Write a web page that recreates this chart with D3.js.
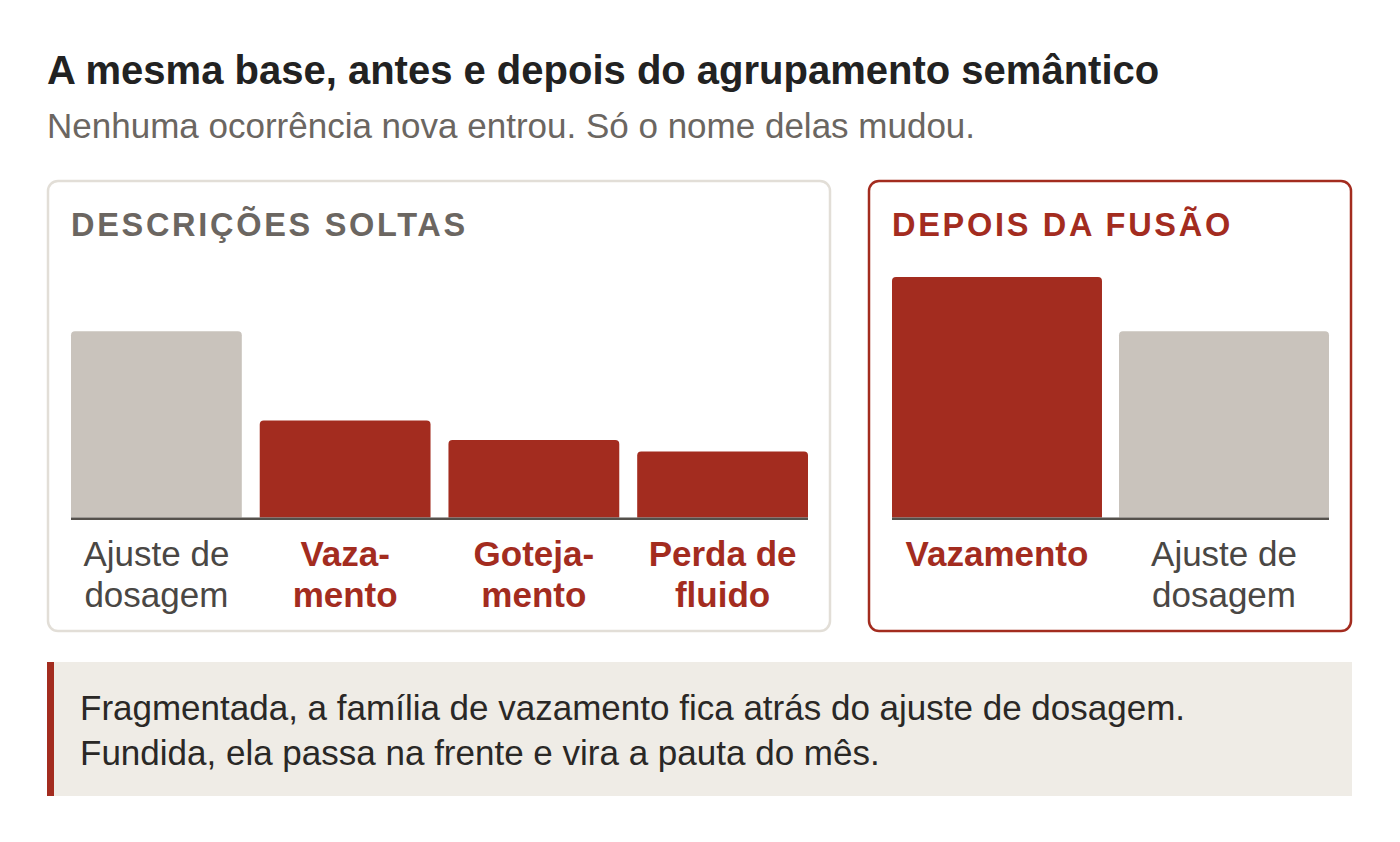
<!DOCTYPE html>
<style>
    body {
        margin: 0;
        background: #fff;
        overflow: hidden;
    }

    svg text {
        font-family: "Liberation Sans", Arial, Helvetica, sans-serif;
    }
</style>
<div id="container"></div>
<script src="https://cdn.jsdelivr.net/npm/d3@7"></script>
<script>
    // Data
    const beforeLabels = [["Ajuste de", "dosagem"], ["Vaza-", "mento"], ["Goteja-", "mento"], ["Perda de", "fluido"]];
    const beforeValues = [48, 25, 20, 17];
    const beforeFamily = ["outro", "vazamento", "vazamento", "vazamento"];

    const afterLabels = [["Vazamento"], ["Ajuste de", "dosagem"]];
    const afterValues = [62, 48];
    const afterFamily = ["vazamento", "outro"];

    const title = "A mesma base, antes e depois do agrupamento semântico";
    const subtitle = "Nenhuma ocorrência nova entrou. Só o nome delas mudou.";
    const captionLines = [
        "Fragmentada, a família de vazamento fica atrás do ajuste de dosagem.",
        "Fundida, ela passa na frente e vira a pauta do mês."
    ];

    const red = "#a32c1f";
    const barColor = {vazamento: red, outro: "#c9c3bc"};
    const labelColor = {vazamento: red, outro: "#4a4744"};

    const width = 1400, height = 842;
    const baseY = 517.5, topY = 277;

    const svg = d3.select("#container").append("svg")
        .attr("width", width)
        .attr("height", height);

    svg.append("text")
        .attr("x", 47).attr("y", 84)
        .attr("font-size", 40).attr("font-weight", "bold")
        .attr("fill", "#222")
        .text(title);

    svg.append("text")
        .attr("x", 47).attr("y", 138)
        .attr("font-size", 35).attr("fill", "#6b6661")
        .text(subtitle);

    // shared value scale so both panels compare
    const y = d3.scaleLinear()
        .domain([0, d3.max(afterValues.concat(beforeValues))])
        .range([baseY, topY]);

    function topRoundedBar(x0, y0, w, h, r) {
        return `M${x0},${y0 + h}V${y0 + r}Q${x0},${y0} ${x0 + r},${y0}H${x0 + w - r}Q${x0 + w},${y0} ${x0 + w},${y0 + r}V${y0 + h}Z`;
    }

    function panel(opts) {
        const g = svg.append("g");
        g.append("rect")
            .attr("x", opts.box[0]).attr("y", 181)
            .attr("width", opts.box[1] - opts.box[0]).attr("height", 450)
            .attr("rx", 10)
            .attr("fill", "#fff")
            .attr("stroke", opts.stroke)
            .attr("stroke-width", 2.5);

        g.append("text")
            .attr("x", opts.range[0]).attr("y", 236)
            .attr("font-size", 32.5).attr("font-weight", "bold")
            .attr("letter-spacing", 2.7)
            .attr("fill", opts.headColor)
            .text(opts.head);

        const x = d3.scaleBand()
            .domain(d3.range(opts.values.length))
            .range(opts.range)
            .paddingInner(opts.pad);

        g.selectAll("path.bar")
            .data(opts.values)
            .join("path")
            .attr("class", "bar")
            .attr("fill", (d, i) => barColor[opts.family[i]])
            .attr("d", (d, i) => topRoundedBar(x(i), y(d), x.bandwidth(), baseY - y(d), 4));

        g.append("line")
            .attr("x1", opts.range[0]).attr("x2", opts.range[1])
            .attr("y1", baseY + 1.2).attr("y2", baseY + 1.2)
            .attr("stroke", "#55514c")
            .attr("stroke-width", 2.5);

        const lab = g.selectAll("text.lab")
            .data(opts.labels)
            .join("text")
            .attr("class", "lab")
            .attr("text-anchor", "middle")
            .attr("font-size", 35)
            .attr("font-weight", (d, i) => opts.family[i] === "vazamento" ? "bold" : "normal")
            .attr("fill", (d, i) => labelColor[opts.family[i]]);

        lab.selectAll("tspan")
            .data((d, i) => d.map(t => ({t, i})))
            .join("tspan")
            .attr("x", d => x(d.i) + x.bandwidth() / 2)
            .attr("y", (d, j) => 566 + j * 41)
            .text(d => d.t);
    }

    panel({
        box: [48, 830], range: [71, 808], pad: 0.095,
        head: "DESCRIÇÕES SOLTAS", headColor: "#6b6661", stroke: "#e2ded7",
        values: beforeValues, labels: beforeLabels, family: beforeFamily
    });

    panel({
        box: [869, 1351], range: [892, 1329], pad: 0.075,
        head: "DEPOIS DA FUSÃO", headColor: red, stroke: red,
        values: afterValues, labels: afterLabels, family: afterFamily
    });

    // takeaway box
    svg.append("rect")
        .attr("x", 47).attr("y", 662)
        .attr("width", 1305).attr("height", 134)
        .attr("fill", "#efece6");
    svg.append("rect")
        .attr("x", 47).attr("y", 662)
        .attr("width", 7).attr("height", 134)
        .attr("fill", red);

    svg.append("g").selectAll("text")
        .data(captionLines)
        .join("text")
        .attr("x", 80)
        .attr("y", (d, i) => 720 + i * 45)
        .attr("font-size", 35)
        .attr("fill", "#2a2826")
        .text(d => d);
</script>
